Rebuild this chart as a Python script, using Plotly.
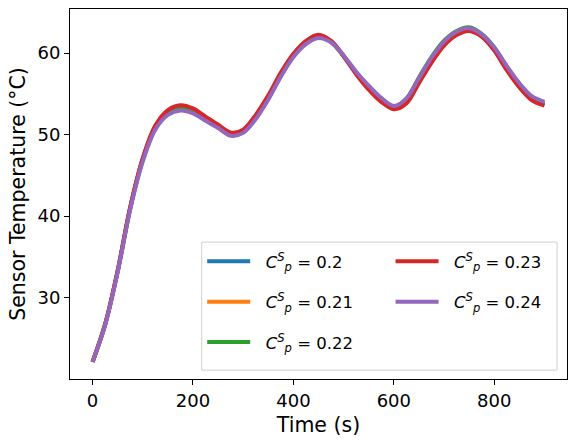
import plotly.graph_objects as go

# time axis, every 25 s
time_s = list(range(0, 901, 25))

# sensor temperature (C), one list per heat capacity
temp_020 = [22.1, 26.7, 33.3, 41.05, 47.05, 51.0, 52.9, 53.45, 53.1, 52.1, 51.1, 50.15, 50.5,
            52.25, 54.65, 57.45, 59.8, 61.4, 62.15, 61.45, 59.6, 57.5, 55.65, 54.1, 53.2,
            54.0, 56.5, 59.0, 61.1, 62.35, 62.85, 62.1, 60.45, 58.05, 55.9, 54.3, 53.6]
temp_021 = [22.1, 26.7, 33.25, 41.0, 47.0, 50.95, 52.8, 53.35, 53.0, 52.0, 51.05, 50.1, 50.45,
            52.15, 54.55, 57.35, 59.7, 61.3, 62.05, 61.4, 59.65, 57.55, 55.75, 54.2, 53.25,
            54.15, 56.7, 59.2, 61.25, 62.5, 62.95, 62.2, 60.55, 58.15, 56.0, 54.4, 53.7]
temp_022 = [22.1, 26.7, 33.2, 40.95, 46.9, 50.85, 52.65, 53.2, 52.85, 51.9, 50.95, 50.0, 50.35,
            52.0, 54.4, 57.2, 59.6, 61.2, 61.95, 61.35, 59.65, 57.6, 55.85, 54.35, 53.35,
            54.4, 57.0, 59.5, 61.5, 62.7, 63.15, 62.35, 60.7, 58.3, 56.15, 54.5, 53.8]
temp_023 = [22.1, 26.7, 33.3, 41.1, 47.1, 51.1, 53.0, 53.6, 53.2, 52.2, 51.2, 50.25, 50.6,
            52.4, 54.8, 57.6, 59.9, 61.5, 62.25, 61.5, 59.6, 57.4, 55.5, 54.0, 53.1,
            53.8, 56.3, 58.8, 60.9, 62.2, 62.7, 62.0, 60.3, 57.9, 55.8, 54.2, 53.55]
temp_024 = [22.1, 26.6, 33.1, 40.8, 46.7, 50.6, 52.4, 52.95, 52.6, 51.7, 50.8, 49.85, 50.2,
            51.9, 54.3, 57.1, 59.5, 61.1, 61.85, 61.3, 59.7, 57.7, 56.0, 54.5, 53.5,
            54.4, 56.9, 59.4, 61.4, 62.6, 63.05, 62.3, 60.7, 58.4, 56.3, 54.7, 54.0]

series = [
    ("0.2", temp_020, "#1f77b4", "legend"),
    ("0.21", temp_021, "#ff7f0e", "legend"),
    ("0.22", temp_022, "#2ca02c", "legend"),
    ("0.23", temp_023, "#d62728", "legend2"),
    ("0.24", temp_024, "#9467bd", "legend2"),
]

fig = go.Figure()
for label, vals, color, leg in series:
    fig.add_trace(go.Scatter(
        x=time_s, y=vals, mode="lines",
        line=dict(color=color, width=4, shape="spline", smoothing=0.9),
        name="\u00a0\u00a0<i>C</i><sup><i>S</i></sup><sub><i>p</i></sub> = " + label,
        legend=leg, legendgroup=label))

axis_style = dict(showgrid=False, zeroline=False, showline=True, linecolor="black",
                  linewidth=1, mirror=True, ticks="outside", ticklen=5, tickcolor="black",
                  tickfont=dict(size=18, color="black"))

fig.update_xaxes(range=[-45, 945], tickvals=[0, 200, 400, 600, 800],
                 title=dict(text="Time (s)", font=dict(size=20.5, color="black"), standoff=8),
                 **axis_style)
fig.update_yaxes(range=[20.0, 65.4], tickvals=[30, 40, 50, 60],
                 title=dict(text="Sensor Temperature (°C)", font=dict(size=20.5, color="black"), standoff=6),
                 **axis_style)

leg_common = dict(orientation="v", yanchor="top", y=0.365, bgcolor="rgba(0,0,0,0)",
                  borderwidth=0, font=dict(size=16.5, color="black"), itemwidth=43,
                  tracegroupgap=16)

# legend frame shared by the two legend columns
fig.add_shape(type="rect", xref="paper", yref="paper", x0=0.265, x1=0.98, y0=0.024, y1=0.37,
              line=dict(color="#d0d0d0", width=1), fillcolor="rgba(255,255,255,0.8)", layer="below")

fig.update_layout(
    width=576, height=443,
    margin=dict(l=70, r=9, t=9, b=64),
    paper_bgcolor="white", plot_bgcolor="white",
    font=dict(family="DejaVu Sans", color="black"),
    legend=dict(x=0.266, xanchor="left", **leg_common),
    legend2=dict(x=0.645, xanchor="left", **leg_common),
)

fig.write_html("out.html", config={"displayModeBar": False},
               post_script="document.body.style.margin='0';")
